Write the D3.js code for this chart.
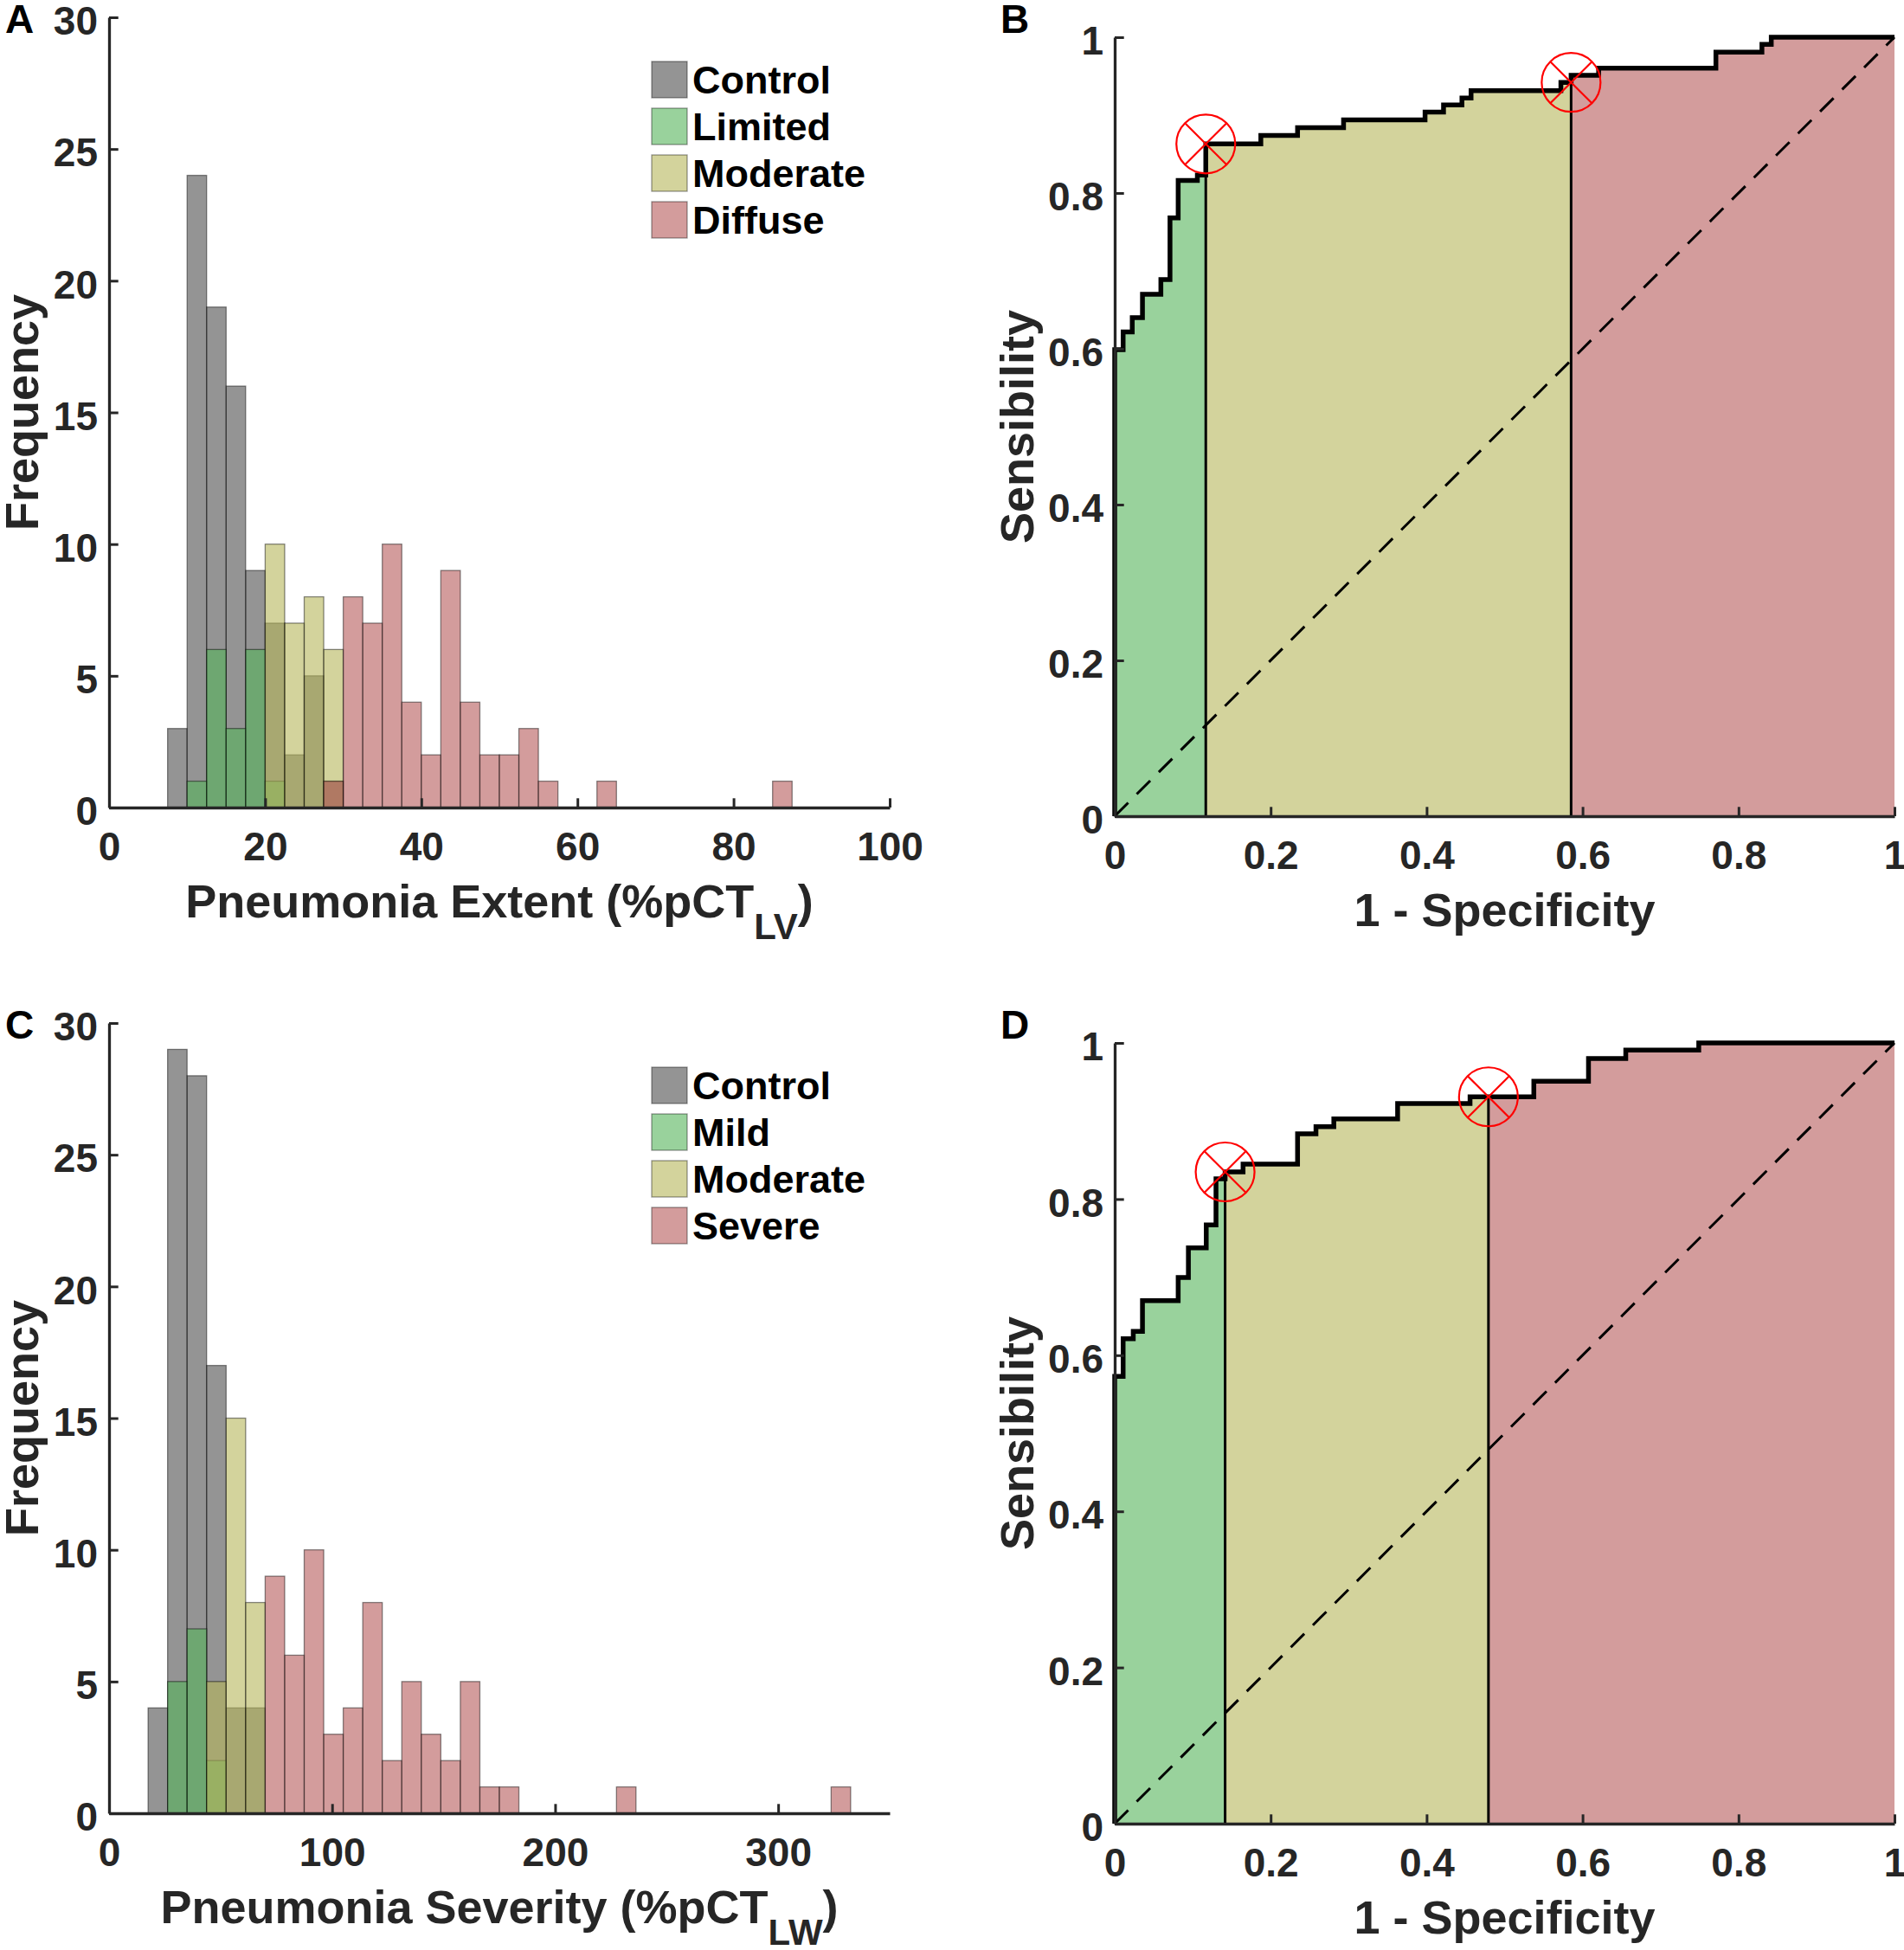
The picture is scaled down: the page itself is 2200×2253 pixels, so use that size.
<!DOCTYPE html>
<html>
<head>
<meta charset="utf-8">
<script src="https://cdn.jsdelivr.net/npm/d3@7"></script>
<style>
  body { margin: 0; background: #fff; }
  text { font-family: "Liberation Sans", Arial, Helvetica, sans-serif; font-weight: bold; }
</style>
</head>
<body>
<div id="chart"></div>
<script>

// ---- histogram A : pneumonia extent, bins of 2.5 starting at 7.5
const binStartA = 7.5, binWidthA = 2.5;
const controlA  = [3, 24, 19, 16, 9, 7, 2, 5, 1];
const limitedA  = [0, 1, 6, 3, 6, 1];
const moderateA = [0, 0, 0, 0, 0, 10, 7, 8, 6];
const diffuseA  = [0, 0, 0, 0, 0, 0, 0, 0, 1, 8, 7, 10, 4, 2, 9, 4, 2, 2, 3, 1, 0, 0, 1, 0, 0, 0, 0, 0, 0, 0, 0, 1];
const legendA   = ["Control", "Limited", "Moderate", "Diffuse"];

// ---- histogram C : pneumonia severity, bins of 8.75 starting at 17.5
const binStartC = 17.5, binWidthC = 8.75;
const controlC  = [4, 29, 28, 17, 4, 4];
const mildC     = [0, 5, 7, 2];
const moderateC = [0, 0, 0, 5, 15, 8];
const severeC   = [0, 0, 0, 0, 0, 0, 9, 6, 10, 3, 4, 8, 2, 5, 3, 2, 5, 1, 1, 0, 0, 0, 0, 0, 1, 0, 0, 0, 0, 0, 0, 0, 0, 0, 0, 1];
const legendC   = ["Control", "Mild", "Moderate", "Severe"];

// ---- ROC curves (steps: at fpr[i] the curve rises to tpr[i])
const fprB = [0, 0, 0.0108, 0.0225, 0.0356, 0.0592, 0.0709, 0.0814, 0.106, 0.1168, 0.1874, 0.2345, 0.2935, 0.398, 0.4217, 0.4453, 0.457, 0.5722, 0.5853, 0.6206, 0.771, 0.830, 0.842, 1];
const tprB = [0, 0.599, 0.6216, 0.64, 0.670, 0.689, 0.768, 0.816, 0.823, 0.863, 0.874, 0.884, 0.894, 0.904, 0.913, 0.922, 0.9315, 0.942, 0.951, 0.9604, 0.9808, 0.9908, 1, 1];
const cutFprB = [0.1168, 0.5853];
const cutTprB = [0.863, 0.942];

const fprD = [0, 0, 0.0108, 0.0238, 0.0356, 0.0814, 0.0945, 0.1174, 0.1299, 0.1416, 0.1646, 0.2345, 0.2581, 0.281, 0.3628, 0.4557, 0.5375, 0.6076, 0.6554, 0.749, 1];
const tprD = [0, 0.573, 0.621, 0.6305, 0.670, 0.6996, 0.7376, 0.767, 0.826, 0.8348, 0.8448, 0.8836, 0.8928, 0.9028, 0.9224, 0.931, 0.951, 0.980, 0.9908, 1.0, 1.0];
const cutFprD = [0.1416, 0.4793];
const cutTprD = [0.8348, 0.931];

const histTicksY = [0, 5, 10, 15, 20, 25, 30];
const ticksXA = [0, 20, 40, 60, 80, 100];
const ticksXC = [0, 100, 200, 300];
const rocTicks = [0, 0.2, 0.4, 0.6, 0.8, 1];

// group colours (drawn with 0.6 opacity like the original)
const groupColors = ["#4d4d4d", "#55b45a", "#b5b55a", "#b55a5a"];
const faceAlpha = 0.6;
const axisColor = "#262626";

const W = 2200, H = 2253;
const svg = d3.select("#chart").append("svg").attr("width", W).attr("height", H);

const panels = {
    A: {left: 126, right: 1028, top: 20, bottom: 933},
    B: {left: 1288, right: 2189, top: 43, bottom: 943},
    C: {left: 126, right: 1028, top: 1182, bottom: 2095},
    D: {left: 1288, right: 2189, top: 1205, bottom: 2107}
};

const drawAxes = (g, x, y, xTicks, yTicks, fmt, p) => {
    const xAxis = d3.axisBottom(x).tickValues(xTicks).tickSizeInner(-10.7).tickSizeOuter(0).tickPadding(28).tickFormat(fmt);
    const yAxis = d3.axisLeft(y).tickValues(yTicks).tickSizeInner(-10.7).tickSizeOuter(0).tickPadding(13).tickFormat(fmt);
    const gx = g.append("g").attr("transform", `translate(0,${p.bottom})`).call(xAxis);
    const gy = g.append("g").attr("transform", `translate(${p.left},0)`).call(yAxis);
    [gx, gy].forEach((a) => {
        a.attr("font-family", null).attr("font-size", null);
        a.select(".domain").attr("stroke", axisColor).attr("stroke-width", 3.3);
        a.selectAll(".tick line").attr("stroke", axisColor).attr("stroke-width", 3);
        a.selectAll(".tick text").attr("fill", axisColor).style("font-size", "46px");
    });
    // labels sit a little below their tick in the original
    gy.selectAll(".tick text").attr("dy", "0.43em");
};

const drawHist = (key, binStart, binWidth, groups, names, xMax, xTicks, labelMain, labelSub, letter) => {
    const p = panels[key];
    const g = svg.append("g");
    const x = d3.scaleLinear().domain([0, xMax]).range([p.left, p.right]);
    const y = d3.scaleLinear().domain([0, 30]).range([p.bottom, p.top]);

    groups.forEach((counts, gi) => {
        const bins = counts.map((c, i) => ({c, x0: binStart + i * binWidth})).filter((b) => b.c > 0);
        g.append("g").selectAll("rect").data(bins).join("rect")
            .attr("x", (d) => x(d.x0))
            .attr("width", (d) => x(d.x0 + binWidth) - x(d.x0))
            .attr("y", (d) => y(d.c))
            .attr("height", (d) => y(0) - y(d.c))
            .attr("fill", groupColors[gi])
            .attr("fill-opacity", faceAlpha)
            .attr("stroke", "#000")
            .attr("stroke-opacity", 0.45)
            .attr("stroke-width", 1.3);
    });

    drawAxes(g, x, y, xTicks, histTicksY, (d) => d, p);

    // legend
    const leg = g.append("g").attr("transform", `translate(753,${p.top + 51})`);
    names.forEach((n, i) => {
        leg.append("rect").attr("x", 0).attr("y", i * 54).attr("width", 41).attr("height", 42)
            .attr("fill", groupColors[i]).attr("fill-opacity", faceAlpha)
            .attr("stroke", "#000").attr("stroke-opacity", 0.4).attr("stroke-width", 1.3);
        leg.append("text").attr("x", 47).attr("y", i * 54 + 37).attr("fill", "#000")
            .style("font-size", "45px").text(n);
    });

    g.append("text").attr("transform", `translate(44,${(p.top + p.bottom) / 2}) rotate(-90)`)
        .attr("text-anchor", "middle").attr("fill", axisColor).style("font-size", "54px").text("Frequency");

    const xl = g.append("text").attr("x", (p.left + p.right) / 2).attr("y", p.bottom + 127)
        .attr("text-anchor", "middle").attr("fill", axisColor).style("font-size", "54px");
    xl.append("tspan").text(labelMain);
    xl.append("tspan").attr("dy", 25).style("font-size", "42px").text(labelSub);
    xl.append("tspan").attr("dy", -25).text(")");

    g.append("text").attr("x", 6).attr("y", p.top + 18).attr("fill", "#000").style("font-size", "46px").text(letter);
};

const drawRoc = (key, fpr, tpr, cutF, cutT, letter) => {
    const p = panels[key];
    const g = svg.append("g");
    const x = d3.scaleLinear().domain([0, 1]).range([p.left, p.right]);
    const y = d3.scaleLinear().domain([0, 1]).range([p.bottom, p.top]);
    const pts = fpr.map((f, i) => [f, tpr[i]]);

    const area = d3.area().x((d) => x(d[0])).y0(y(0)).y1((d) => y(d[1])).curve(d3.curveStepAfter);
    const bounds = [0, ...cutF, 1];
    bounds.slice(0, -1).forEach((b, i) => {
        const id = `clip${key}${i}`;
        g.append("clipPath").attr("id", id).append("rect")
            .attr("x", x(b)).attr("y", p.top - 10)
            .attr("width", x(bounds[i + 1]) - x(b)).attr("height", p.bottom - p.top + 10);
        g.append("path").datum(pts).attr("d", area).attr("clip-path", `url(#${id})`)
            .attr("fill", groupColors[i + 1]).attr("fill-opacity", faceAlpha);
    });

    g.append("line").attr("x1", x(0)).attr("y1", y(0)).attr("x2", x(1)).attr("y2", y(1))
        .attr("stroke", "#000").attr("stroke-width", 3).attr("stroke-dasharray", "22,14");

    cutF.forEach((f, i) => {
        g.append("line").attr("x1", x(f)).attr("x2", x(f)).attr("y1", y(0)).attr("y2", y(cutT[i]))
            .attr("stroke", "#000").attr("stroke-width", 3);
    });

    const line = d3.line().x((d) => x(d[0])).y((d) => y(d[1])).curve(d3.curveStepAfter);
    g.append("path").datum(pts).attr("d", line).attr("fill", "none")
        .attr("stroke", "#000").attr("stroke-width", 5.5);

    const r = 34, k = r * Math.SQRT1_2;
    cutF.forEach((f, i) => {
        const cx = x(f), cy = y(cutT[i]);
        const m = g.append("g").attr("stroke", "#ff0000").attr("stroke-width", 2.2).attr("fill", "none");
        m.append("circle").attr("cx", cx).attr("cy", cy).attr("r", r);
        m.append("line").attr("x1", cx - k).attr("y1", cy - k).attr("x2", cx + k).attr("y2", cy + k);
        m.append("line").attr("x1", cx - k).attr("y1", cy + k).attr("x2", cx + k).attr("y2", cy - k);
    });

    drawAxes(g, x, y, rocTicks, rocTicks, (d) => (d === 0 || d === 1 ? d : d.toFixed(1)), p);

    g.append("text").attr("transform", `translate(${p.left - 94},${(p.top + p.bottom) / 2}) rotate(-90)`)
        .attr("text-anchor", "middle").attr("fill", axisColor).style("font-size", "54px").text("Sensibility");
    g.append("text").attr("x", (p.left + p.right) / 2).attr("y", p.bottom + 127)
        .attr("text-anchor", "middle").attr("fill", axisColor).style("font-size", "54px").text("1 - Specificity");

    g.append("text").attr("x", 1156).attr("y", p.top - 5).attr("fill", "#000").style("font-size", "46px").text(letter);
};

drawHist("A", binStartA, binWidthA, [controlA, limitedA, moderateA, diffuseA], legendA, 100, ticksXA,
    "Pneumonia Extent (%pCT", "LV", "A");
drawRoc("B", fprB, tprB, cutFprB, cutTprB, "B");
drawHist("C", binStartC, binWidthC, [controlC, mildC, moderateC, severeC], legendC, 350, ticksXC,
    "Pneumonia Severity (%pCT", "LW", "C");
drawRoc("D", fprD, tprD, cutFprD, cutTprD, "D");

</script>
</body>
</html>
